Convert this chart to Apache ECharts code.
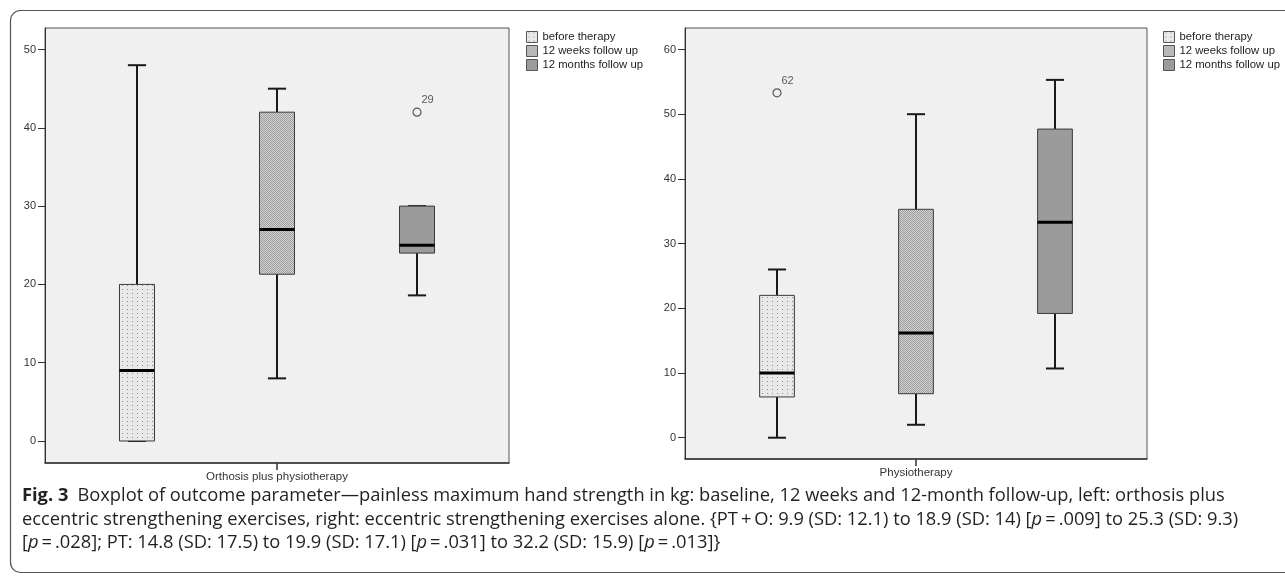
<!DOCTYPE html>
<html><head><meta charset="utf-8">
<script src="https://cdn.jsdelivr.net/npm/echarts@6/dist/echarts.min.js"></script>
<style>html,body{margin:0;padding:0;background:#fff}#c{width:1285px;height:576px}</style>
</head><body><div id="c"></div>
<script>
// ---------------- DATA ----------------
var groupNames = ['before therapy', '12 weeks follow up', '12 months follow up'];
var leftCategory = ['Orthosis plus physiotherapy'];
var rightCategory = ['Physiotherapy'];
// each box: [min, Q1, median, Q3, max]
var leftBefore = [0, 0, 9, 20, 48];
var leftWeeks = [8, 21.3, 27, 42, 45];
var leftMonths = [18.6, 24, 25, 30, 30];
var rightBefore = [0, 6.3, 10, 22, 26];
var rightWeeks = [2, 6.8, 16.2, 35.3, 50];
var rightMonths = [10.7, 19.2, 33.3, 47.7, 55.3];
// outliers: value, case id, group index
var leftOutlierValues = [42];
var leftOutlierIds = ['29'];
var leftOutlierGroups = [2];
var rightOutlierValues = [53.3];
var rightOutlierIds = ['62'];
var rightOutlierGroups = [0];
// tick labels
var leftTicks = [0, 10, 20, 30, 40, 50];
var rightTicks = [0, 10, 20, 30, 40, 50, 60];

// ---------------- PATTERNS ----------------
function makePattern(w, h, bg, fg, dots) {
  var c = document.createElement('canvas');
  c.width = w; c.height = h;
  var ctx = c.getContext('2d');
  ctx.fillStyle = bg; ctx.fillRect(0, 0, w, h);
  ctx.fillStyle = fg;
  dots.forEach(function (d) { ctx.fillRect(d[0], d[1], 1, 1); });
  return { image: c, repeat: 'repeat' };
}
var fills = [
  makePattern(5, 4, '#e9e9e9', '#8c8c8c', [[2, 1]]),
  makePattern(2, 2, '#d2d2d2', '#9e9e9e', [[0, 0], [1, 1]]),
  '#9b9b9b'
];

// ---------------- RENDER ----------------
function renderBox(params, api) {
  var x = api.value(0);
  var pMin = api.coord([x, api.value(1)]);
  var pQ1 = api.coord([x, api.value(2)]);
  var pMed = api.coord([x, api.value(3)]);
  var pQ3 = api.coord([x, api.value(4)]);
  var pMax = api.coord([x, api.value(5)]);
  var boxW = api.size([0.25, 0])[0];
  var capW = api.size([0.13, 0])[0];
  var cx = pMed[0];
  var ws = { stroke: '#1a1a1a', lineWidth: 2 };
  return {
    type: 'group',
    children: [
      { type: 'line', shape: { x1: cx, y1: pMax[1], x2: cx, y2: pQ3[1] }, style: ws },
      { type: 'line', shape: { x1: cx, y1: pQ1[1], x2: cx, y2: pMin[1] }, style: ws },
      { type: 'line', shape: { x1: cx - capW / 2, y1: pMax[1], x2: cx + capW / 2, y2: pMax[1] }, style: ws },
      { type: 'line', shape: { x1: cx - capW / 2, y1: pMin[1], x2: cx + capW / 2, y2: pMin[1] }, style: ws },
      { type: 'rect', shape: { x: cx - boxW / 2, y: pQ3[1], width: boxW, height: pQ1[1] - pQ3[1] },
        style: { fill: fills[params.seriesIndex % 3], stroke: '#3a3a3a', lineWidth: 1 } },
      { type: 'line', shape: { x1: cx - boxW / 2, y1: pMed[1], x2: cx + boxW / 2, y2: pMed[1] },
        style: { stroke: '#000', lineWidth: 3 } }
    ]
  };
}

function boxSeries(name, idx, box, xIdx, yIdx) {
  return {
    type: 'custom', name: name, xAxisIndex: xIdx, yAxisIndex: yIdx,
    itemStyle: { color: fills[idx] },
    renderItem: renderBox,
    encode: { x: 0, y: [1, 2, 3, 4, 5] },
    data: [[idx - 1].concat(box)],
    silent: true
  };
}

function outlierSeries(values, ids, groups, xIdx, yIdx) {
  return {
    type: 'scatter', name: 'outliers', xAxisIndex: xIdx, yAxisIndex: yIdx,
    symbol: 'circle', symbolSize: 8, silent: true,
    itemStyle: { color: 'rgba(0,0,0,0)', borderColor: '#333', borderWidth: 1.2 },
    label: { show: true, position: [9, -13], fontSize: 11, color: '#333',
      fontFamily: 'Liberation Sans, Arial, sans-serif',
      formatter: function (p) { return p.data[2]; } },
    data: values.map(function (v, i) { return [groups[i] - 1, v, ids[i]]; })
  };
}

function yAxisDef(grid, min, max, ticks) {
  return {
    gridIndex: grid, type: 'value', min: min, max: max, position: 'left',
    axisLine: { show: true, onZero: false, lineStyle: { color: '#333', width: 1 } },
    axisTick: { show: true, length: 7, customValues: ticks, lineStyle: { color: '#333', width: 1 } },
    axisLabel: { customValues: ticks, margin: 9, fontSize: 11, color: '#333',
      fontFamily: 'Liberation Sans, Arial, sans-serif' },
    splitLine: { show: false }
  };
}
function catAxisDef(grid, cats) {
  return {
    gridIndex: grid, type: 'category', data: cats, position: 'bottom',
    axisLine: { show: true, onZero: false, lineStyle: { color: '#333', width: 1.5 } },
    axisTick: { show: true, alignWithLabel: true, length: 7, lineStyle: { color: '#333', width: 1.5 } },
    axisLabel: { margin: 8, fontSize: 11.5, color: '#333', fontFamily: 'Liberation Sans, Arial, sans-serif' },
    splitLine: { show: false }
  };
}
function legendDef(left) {
  return {
    left: left, top: 31, orient: 'vertical', padding: 0,
    itemWidth: 11, itemHeight: 11, itemGap: 2, icon: 'rect', selectedMode: false,
    textStyle: { fontSize: 11.3, color: '#222', fontFamily: 'Liberation Sans, Arial, sans-serif' },
    data: groupNames.map(function (n, i) {
      return { name: n, itemStyle: { color: fills[i], borderColor: '#555', borderWidth: 1 } };
    })
  };
}

var series = [];
[leftBefore, leftWeeks, leftMonths].forEach(function (b, i) { series.push(boxSeries(groupNames[i], i, b, 0, 0)); });
[rightBefore, rightWeeks, rightMonths].forEach(function (b, i) { series.push(boxSeries(groupNames[i], i, b, 2, 1)); });
series.push(outlierSeries(leftOutlierValues, leftOutlierIds, leftOutlierGroups, 0, 0));
series.push(outlierSeries(rightOutlierValues, rightOutlierIds, rightOutlierGroups, 2, 1));

var capSize = 18.3;
var capFont = { fontFamily: 'Open Sans', fontSize: capSize, fill: '#231f20' };
var rich = {
  b: { fontFamily: 'Open Sans', fontSize: capSize, fontWeight: 'bold', fill: '#231f20' },
  i: { fontFamily: 'Open Sans', fontSize: capSize, fontStyle: 'italic', fill: '#231f20' }
};
var captionLines = [
  '{b|Fig. 3}\u2002Boxplot of outcome parameter\u2014painless maximum hand strength in kg: baseline, 12 weeks and 12-month follow-up, left: orthosis plus',
  'eccentric strengthening exercises, right: eccentric strengthening exercises alone. {PT\u2009+\u2009O: 9.9 (SD: 12.1) to 18.9 (SD: 14) [{i|p}\u2009=\u2009.009] to 25.3 (SD: 9.3)',
  '[{i|p}\u2009=\u2009.028]; PT: 14.8 (SD: 17.5) to 19.9 (SD: 17.1) [{i|p}\u2009=\u2009.031] to 32.2 (SD: 15.9) [{i|p}\u2009=\u2009.013]}'
];

var graphics = [
  { type: 'rect', shape: { x: 10.5, y: 10.5, width: 1400, height: 562, r: 10 },
    style: { fill: 'none', stroke: '#555', lineWidth: 1.2 }, z: -10, silent: true }
];
captionLines.forEach(function (t, i) {
  graphics.push({ type: 'text', x: 22, y: 496 + i * 23.5, silent: true,
    style: Object.assign({ text: t, rich: rich, verticalAlign: 'middle' }, capFont) });
});

var option = {
  animation: false,
  backgroundColor: '#fff',
  grid: [
    { left: 45, top: 28, width: 464, height: 435, show: true, backgroundColor: '#f0f0f0', borderColor: '#555', borderWidth: 1 },
    { left: 685, top: 28, width: 462, height: 431, show: true, backgroundColor: '#f0f0f0', borderColor: '#555', borderWidth: 1 }
  ],
  xAxis: [
    { gridIndex: 0, type: 'value', min: -1.657, max: 1.657, show: false, position: 'bottom' },
    catAxisDef(0, leftCategory),
    { gridIndex: 1, type: 'value', min: -1.662, max: 1.662, show: false, position: 'bottom' },
    catAxisDef(1, rightCategory)
  ],
  yAxis: [
    yAxisDef(0, -2.81, 52.75, leftTicks),
    yAxisDef(1, -3.29, 63.32, rightTicks)
  ],
  legend: [legendDef(526), legendDef(1163)],
  graphic: graphics,
  series: series
};
var chart = echarts.init(document.getElementById('c'), null, { renderer: 'canvas' });
chart.setOption(option);
</script>
</body></html>
